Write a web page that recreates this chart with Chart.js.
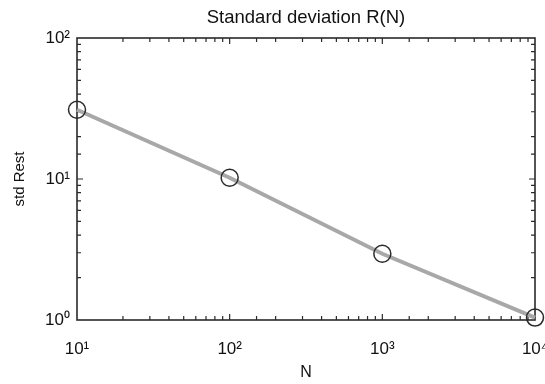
<!DOCTYPE html>
<html>
<head>
<meta charset="utf-8">
<script src="https://cdn.jsdelivr.net/npm/chart.js@4"></script>
<style>
html,body{margin:0;padding:0;background:#fff;}
canvas{display:block;}
</style>
</head>
<body>
<canvas id="c" width="545" height="384"></canvas>
<script>
// ---- data ----
const nValues = [10, 100, 1000, 10000];
const stdRest = [31, 10.2, 2.95, 1.04];
const xTickExponents = [1, 2, 3, 4];
const yTickExponents = [0, 1, 2];
const chartTitle = 'Standard deviation R(N)';
const xTitle = 'N';
const yTitle = 'std Rest';

const FONT = "'Liberation Sans', Arial, Helvetica, sans-serif";
const SUP = {'0':'\u2070','1':'\u00B9','2':'\u00B2','3':'\u00B3','4':'\u2074','5':'\u2075','6':'\u2076','7':'\u2077','8':'\u2078','9':'\u2079','-':'\u207B'};
function powLabel(e){ return '10' + String(e).split('').map(c => SUP[c]).join(''); }
function isMajor(v, exps){
  const l = Math.log10(v);
  const r = Math.round(l);
  return Math.abs(l - r) < 1e-9 && exps.includes(r) ? r : null;
}

const points = nValues.map((n, i) => ({x: n, y: stdRest[i]}));

const framePlugin = {
  id: 'frame',
  afterLayout(chart){
    const t = chart.titleBlock;
    if (t) { t.left = chart.chartArea.left; t.right = chart.chartArea.right; t.width = t.right - t.left; }
  },
  beforeDatasetsDraw(chart){
    const {ctx, chartArea: a, scales} = chart;
    ctx.save();
    ctx.strokeStyle = '#2a2a2a';
    ctx.lineWidth = 1.6;
    ctx.strokeRect(a.left, a.top, a.right - a.left, a.bottom - a.top);
    ctx.lineWidth = 1.2;
    ctx.beginPath();
    scales.x.ticks.forEach(t => {
      const px = scales.x.getPixelForValue(t.value);
      if (px <= a.left + 0.5 || px >= a.right - 0.5) return;
      const len = isMajor(t.value, xTickExponents) !== null ? 6 : 4;
      ctx.moveTo(px, a.bottom); ctx.lineTo(px, a.bottom - len);
      ctx.moveTo(px, a.top); ctx.lineTo(px, a.top + len);
    });
    scales.y.ticks.forEach(t => {
      const py = scales.y.getPixelForValue(t.value);
      if (py <= a.top + 0.5 || py >= a.bottom - 0.5) return;
      const len = isMajor(t.value, yTickExponents) !== null ? 6 : 4;
      ctx.moveTo(a.left, py); ctx.lineTo(a.left + len, py);
      ctx.moveTo(a.right, py); ctx.lineTo(a.right - len, py);
    });
    ctx.stroke();
    ctx.restore();
  }
};

new Chart(document.getElementById('c'), {
  type: 'line',
  data: {
    datasets: [{
      data: points,
      borderColor: '#a8a8a8',
      borderWidth: 4,
      pointStyle: 'circle',
      pointRadius: 8.5,
      pointBorderWidth: 1.5,
      pointBorderColor: '#2a2a2a',
      pointBackgroundColor: 'rgba(0,0,0,0)',
      tension: 0,
      clip: false
    }]
  },
  options: {
    responsive: false,
    animation: false,
    events: [],
    layout: {padding: {left: 0, right: 9, top: 0, bottom: 0}},
    plugins: {
      legend: {display: false},
      tooltip: {enabled: false},
      title: {
        display: true,
        text: chartTitle,
        color: '#111',
        font: {family: FONT, size: 18.5, weight: 'normal', lineHeight: 1.2},
        padding: {top: 7, bottom: 8.8}
      }
    },
    scales: {
      x: {
        type: 'logarithmic',
        min: 10, max: 10000,
        afterFit(s){ s.height = 64; s.paddingLeft = 0; s.paddingRight = 0; },
        grid: {display: false, drawTicks: false},
        border: {display: false},
        ticks: {
          autoSkip: false,
          maxRotation: 0,
          padding: 19,
          color: '#111',
          font: {family: FONT, size: 17},
          callback(v){ const e = isMajor(v, xTickExponents); return e === null ? '' : powLabel(e); }
        },
        title: {display: true, text: xTitle, color: '#111', font: {family: FONT, size: 16}, padding: {top: 0, bottom: 2}}
      },
      y: {
        type: 'logarithmic',
        min: 1, max: 100,
        afterFit(s){ s.width = 77; s.paddingTop = 0; s.paddingBottom = 0; },
        grid: {display: false, drawTicks: false},
        border: {display: false},
        ticks: {
          autoSkip: false,
          padding: 7,
          color: '#111',
          font: {family: FONT, size: 17},
          callback(v){ const e = isMajor(v, yTickExponents); return e === null ? '' : powLabel(e); }
        },
        title: {display: true, text: yTitle, color: '#111', font: {family: FONT, size: 15}, padding: {top: 11, bottom: 0}}
      }
    }
  },
  plugins: [framePlugin]
});
</script>
</body>
</html>
